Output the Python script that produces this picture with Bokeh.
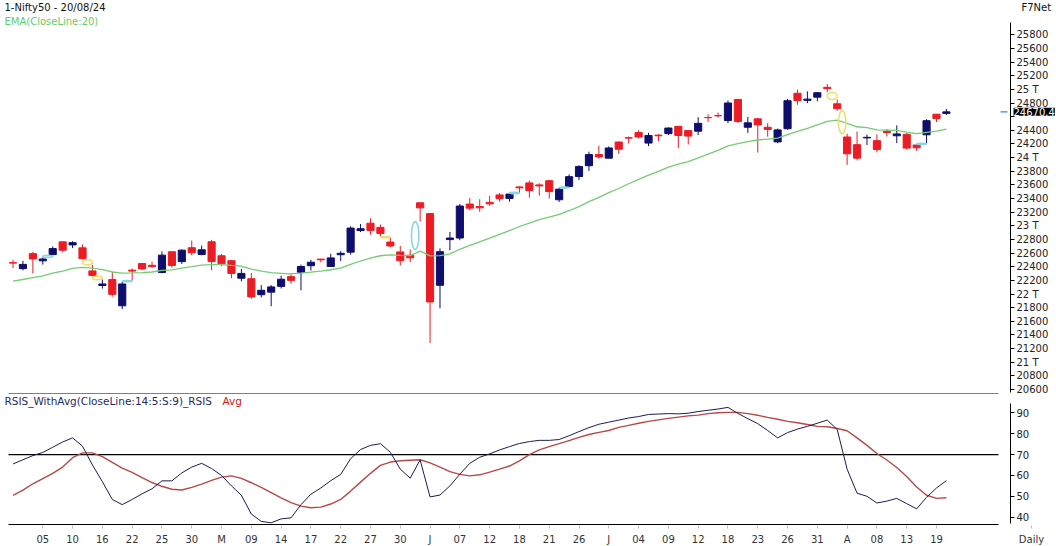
from bokeh.plotting import figure
from bokeh.layouts import column
from bokeh.models import ColumnDataSource, FixedTicker, Label, Range1d, LinearAxis
from bokeh.embed import file_html
from bokeh.resources import INLINE

# ---------------- data ----------------
dates = ["02-04", "03-04", "04-04", "05-04", "08-04", "09-04", "10-04", "12-04", "15-04", "16-04",
         "18-04", "19-04", "22-04", "23-04", "24-04", "25-04", "26-04", "29-04", "30-04", "02-05",
         "03-05", "06-05", "07-05", "08-05", "09-05", "10-05", "13-05", "14-05", "15-05", "16-05",
         "17-05", "18-05", "21-05", "22-05", "23-05", "24-05", "27-05", "28-05", "29-05", "30-05",
         "31-05", "03-06", "04-06", "05-06", "06-06", "07-06", "10-06", "11-06", "12-06", "13-06",
         "14-06", "18-06", "19-06", "20-06", "21-06", "24-06", "25-06", "26-06", "27-06", "28-06",
         "01-07", "02-07", "03-07", "04-07", "05-07", "08-07", "09-07", "10-07", "11-07", "12-07",
         "15-07", "16-07", "18-07", "19-07", "22-07", "23-07", "24-07", "25-07", "26-07", "29-07",
         "30-07", "31-07", "01-08", "02-08", "05-08", "06-08", "07-08", "08-08", "09-08", "12-08",
         "13-08", "14-08", "16-08", "19-08", "20-08"]

opens = [22460, 22372, 22592, 22486, 22578, 22765, 22720, 22677, 22339, 22125,
         22212, 21827, 22350, 22447, 22421, 22316, 22620, 22475, 22679, 22580,
         22766, 22561, 22489, 22231, 22224, 21990, 22027, 22112, 22255, 22319,
         22415, 22512, 22404, 22576, 22614, 22930, 23038, 22977, 22762, 22617,
         22568, 23337, 23179, 22128, 22798, 22821, 23319, 23283, 23344, 23453,
         23401, 23570, 23629, 23600, 23661, 23382, 23577, 23723, 23881, 24044,
         23992, 24228, 24291, 24369, 24213, 24329, 24351, 24459, 24396, 24387,
         24587, 24615, 24543, 24853, 24445, 24568, 24444, 24230, 24423, 24943,
         24839, 24886, 25030, 24789, 24302, 24189, 24289, 24248, 24386, 24320,
         24342, 24184, 24334, 24636, 24648]
highs = [22501, 22486, 22619, 22537, 22697, 22768, 22775, 22726, 22427, 22213,
         22326, 22179, 22375, 22447, 22476, 22625, 22620, 22655, 22783, 22710,
         22794, 22588, 22499, 22368, 22307, 22131, 22131, 22270, 22297, 22432,
         22502, 22513, 22591, 22629, 22993, 23026, 23110, 23019, 22825, 22705,
         22653, 23338, 23179, 22670, 22910, 23320, 23411, 23389, 23441, 23481,
         23490, 23579, 23664, 23624, 23667, 23558, 23754, 23889, 24087, 24174,
         24164, 24236, 24309, 24401, 24363, 24344, 24443, 24461, 24402, 24592,
         24635, 24661, 24837, 24854, 24595, 24582, 24504, 24426, 24861, 24999,
         24971, 24956, 25078, 24851, 24350, 24382, 24337, 24340, 24419, 24472,
         24359, 24196, 24563, 24638, 24712]
lows = [22381, 22346, 22303, 22432, 22569, 22612, 22673, 22503, 22259, 22079,
        21961, 21777, 22198, 22349, 22384, 22305, 22385, 22441, 22568, 22567,
        22348, 22409, 22232, 22185, 21932, 21950, 21821, 22081, 22151, 22054,
        22345, 22465, 22404, 22483, 22577, 22908, 22871, 22841, 22685, 22417,
        22465, 23062, 21281, 21791, 22642, 22789, 23227, 23206, 23295, 23353,
        23353, 23475, 23412, 23442, 23398, 23350, 23562, 23670, 23805, 23985,
        23992, 24056, 24207, 24281, 24168, 24240, 24331, 24141, 24193, 24331,
        24522, 24587, 24504, 24508, 24362, 24074, 24307, 24210, 24410, 24774,
        24798, 24825, 24956, 24686, 23893, 23960, 24184, 24079, 24311, 24212,
        24116, 24099, 24204, 24522, 24625]
closes = [22453, 22434, 22514, 22513, 22666, 22642, 22753, 22519, 22272, 22147,
          21995, 22147, 22336, 22368, 22402, 22570, 22419, 22643, 22604, 22648,
          22475, 22442, 22302, 22302, 21957, 22055, 22104, 22217, 22200, 22403,
          22466, 22502, 22529, 22597, 22967, 22957, 22932, 22888, 22704, 22488,
          22530, 23263, 21884, 22620, 22821, 23290, 23259, 23264, 23322, 23398,
          23465, 23557, 23516, 23585, 23501, 23537, 23721, 23868, 24044, 24010,
          24141, 24123, 24286, 24302, 24323, 24320, 24433, 24324, 24315, 24502,
          24586, 24613, 24800, 24530, 24509, 24479, 24413, 24406, 24834, 24836,
          24857, 24951, 25010, 24717, 24055, 23992, 24297, 24117, 24367, 24347,
          24139, 24143, 24541, 24572, 24670.4]

ema20 = [22189, 22213, 22241, 22267, 22305, 22337, 22377, 22390, 22379, 22357,
         22323, 22306, 22309, 22314, 22323, 22346, 22353, 22381, 22402, 22425,
         22430, 22431, 22419, 22408, 22365, 22335, 22313, 22304, 22294, 22305,
         22320, 22337, 22356, 22379, 22435, 22484, 22527, 22561, 22575, 22567,
         22563, 22630, 22559, 22564, 22589, 22656, 22713, 22766, 22819, 22874,
         22930, 22990, 23040, 23090, 23129, 23168, 23221, 23282, 23355, 23417,
         23486, 23547, 23617, 23682, 23743, 23798, 23859, 23903, 23942, 23995,
         24052, 24105, 24171, 24205, 24234, 24258, 24272, 24285, 24337, 24385,
         24430, 24479, 24530, 24548, 24501, 24452, 24438, 24407, 24403, 24398,
         24373, 24351, 24370, 24389, 24416]

rsis = [65.5, 67.5, 69.5, 71, 73.5, 76, 78, 74, 65, 57,
        48.5, 46, 48.5, 51.2, 53.6, 57.4, 57.4, 61.2, 64, 65.8,
        63.3, 60, 55, 50.5, 41.5, 38, 37.3, 39.2, 39.7, 46,
        51, 54, 57.5, 60.5, 68, 72.4, 74.4, 75.2, 71.1, 63,
        58.7, 67.4, 49.7, 50.6, 55, 60.6, 65.8, 68.7, 70.3, 72.2,
        73.8, 75.3, 76.2, 76.8, 76.8, 77.2, 79.0, 81.0, 82.9, 84.5,
        85.5, 86.5, 87.5, 88.2, 89.2, 89.4, 89.6, 89.5, 89.8, 90.6,
        91.2, 91.8, 92.6, 89.7, 87.2, 84.8, 81.5, 78, 80.5, 82.2,
        83.5, 85, 86.5, 82, 63, 51.5, 50, 46.8, 47.7, 49,
        46.5, 44, 49.5, 54, 57.5]
rsis_avg = [50.5, 53, 56, 58.5, 61, 64, 68.5, 70.8, 70.8, 69,
            66.3, 63.5, 61.5, 59, 56.6, 54.8, 53.4, 53, 54.3, 55.8,
            57.6, 59.2, 59.8, 58.6, 56.5, 54.3, 51.8, 49.3, 47, 45.3,
            44.5, 44.8, 46.3, 48.5, 52.5, 56.8, 61, 64.8, 66.4, 67,
            67.3, 67.5, 66, 64, 61.8, 60.5, 59.8, 60.3, 61.6, 63,
            64.5, 67, 70, 72.2, 73.8, 75.2, 76.7, 78.2, 79.6, 80.6,
            81.5, 83, 84, 85, 85.9, 86.6, 87.3, 87.9, 88.5, 88.9,
            89.6, 90, 90.2, 90.2, 89.6, 88.8, 87.8, 86.9, 85.9, 85.2,
            84.4, 83.5, 83.3, 82.5, 81.4, 78, 74.4, 70.5, 67.4, 63.8,
            59.5, 54.5, 50.5, 49, 49.3]

# gap markers (between candle k and k+1)
gap_after = [3, 7, 8, 11, 37, 40, 50, 55, 82, 83, 91]
gap_lo = [22537, 22427, 22213, 22179, 22825, 22653, 23470, 23558, 24851, 24350, 24196]
gap_hi = [22569, 22503, 22259, 22198, 22841, 23062, 23490, 23562, 24956, 24686, 24204]
gap_kind = ["up", "down", "down", "up", "down", "up", "up", "up", "down", "down", "up"]

date_ticks = [3, 6, 9, 12, 15, 18, 21, 24, 27, 30, 33, 36, 39, 42, 45, 48, 51, 54, 57, 60,
              63, 66, 69, 72, 75, 78, 81, 84, 87, 90, 93]
date_labels = ["05", "10", "16", "22", "25", "30", "M", "09", "14", "17", "22", "27", "30", "J",
               "07", "12", "18", "21", "26", "J", "04", "09", "12", "18", "23", "26", "31", "A",
               "08", "13", "19"]
price_ticks = [20600, 20800, 21000, 21200, 21400, 21600, 21800, 22000, 22200, 22400, 22600,
               22800, 23000, 23200, 23400, 23600, 23800, 24000, 24200, 24400, 24600, 24800,
               25000, 25200, 25400, 25600, 25800]
rsi_ticks = [40, 50, 60, 70, 80, 90]
rsi_level = 70

# ---------------- layout constants ----------------
FONT = "DejaVu Sans"
UP = "#0e0e6c"
DOWN = "#ec1c24"
W = 1056
PX = 9.93                 # pixels per trading day
X0 = -12.5 / PX           # left edge of the frame, in candle units
X_END = X0 + W / PX
AXIS_X = X0 + 1010 / PX   # where the value axes sit
LINE_X0 = X0 + 8 / PX     # panel border lines
LINE_X1 = X0 + 998 / PX
DAILY_X = X0 + 1031 / PX

n = len(closes)
xs = list(range(n))
x_rng = Range1d(X0, X_END)

top = [max(o, c) for o, c in zip(opens, closes)]
bot = [min(o, c) for o, c in zip(opens, closes)]
col = [UP if c > o else DOWN for o, c in zip(opens, closes)]
src = ColumnDataSource(dict(x=xs, h=highs, l=lows, top=top, bot=bot, col=col))


def style_value_axis(ax):
    ax.axis_line_color = "black"
    ax.major_tick_out = 4
    ax.major_tick_in = 0
    ax.major_tick_line_color = "black"
    ax.minor_tick_line_color = None
    ax.major_label_text_font = FONT
    ax.major_label_text_font_size = "10px"
    ax.major_label_text_color = "#222222"
    ax.major_label_standoff = 2


# ---------------- price panel ----------------
P_TOP, P_BOT = 26303, 20527
p1 = figure(frame_width=W, frame_height=394, x_range=x_rng, y_range=Range1d(P_BOT, P_TOP),
            output_backend="svg", toolbar_location=None,
            y_axis_location=None, x_axis_location=None,
            min_border_left=0, min_border_right=0, min_border_top=0, min_border_bottom=0)
p1.outline_line_color = None
p1.grid.visible = False
p1.background_fill_color = "white"
p1.border_fill_color = "white"

ya = LinearAxis(fixed_location=AXIS_X, ticker=FixedTicker(ticks=price_ticks),
                bounds=(20556, 25980))
over = {t: f"{t // 1000} T" for t in price_ticks if t % 1000 == 0}
over[24600] = ""          # hidden behind the last-price box in the reference
ya.major_label_overrides = over
style_value_axis(ya)
p1.add_layout(ya, "right")

p1.segment(x0="x", y0="h", x1="x", y1="l", line_color="col", line_width=1, source=src)
p1.vbar(x="x", width=0.72, top="top", bottom="bot", fill_color="col", line_color="col",
        line_width=1, source=src)
p1.line(xs, ema20, line_color="#74cc74", line_width=1.3)

gx = [g + 0.5 for g in gap_after]
gy = [(a + b) / 2 for a, b in zip(gap_lo, gap_hi)]
gh = [max(b - a, 18) for a, b in zip(gap_lo, gap_hi)]
gw = [0.75 if (b - a) > 250 else 1.0 for a, b in zip(gap_lo, gap_hi)]
gc = ["#8ad6e6" if k == "up" else "#eee070" for k in gap_kind]
p1.ellipse(x=gx, y=gy, width=gw, height=gh, fill_color=None, line_color=gc, line_width=1.6)

# bottom border of the price panel
p1.segment(x0=[LINE_X0], x1=[LINE_X1], y0=[P_BOT + 7], y1=[P_BOT + 7],
           line_color="black", line_width=1.2)

# last price marker
p1.segment(x0=[n + 4.45], x1=[n + 5.15], y0=[closes[-1]], y1=[closes[-1]],
           line_color="#3a8fc0", line_width=1.2)
price_box = Label(x=1013, x_units="screen", y=closes[-1], text=f"{closes[-1]:.1f}",
                  text_font=FONT, text_font_size="10px", text_color="white",
                  background_fill_color="black", text_baseline="middle", level="overlay")
p1.add_layout(price_box)

p1.add_layout(Label(x=4, y=387, x_units="screen", y_units="screen", text="1-Nifty50 - 20/08/24",
                    text_font=FONT, text_font_size="10px", text_color="#111111",
                    text_baseline="middle"))
p1.add_layout(Label(x=4, y=373, x_units="screen", y_units="screen", text="EMA(CloseLine:20)",
                    text_font=FONT, text_font_size="10px", text_color="#66cc66",
                    text_baseline="middle"))
p1.add_layout(Label(x=1021, y=387, x_units="screen", y_units="screen", text="F7Net",
                    text_font=FONT, text_font_size="10px", text_color="#111111",
                    text_baseline="middle"))

# ---------------- RSI panel ----------------
R_TOP, R_BOT = 98.76, 36.02
p2 = figure(frame_width=W, frame_height=131, x_range=x_rng, y_range=Range1d(R_BOT, R_TOP),
            output_backend="svg", toolbar_location=None,
            y_axis_location=None, x_axis_location="below",
            min_border_left=0, min_border_right=0, min_border_top=0, min_border_bottom=0)
p2.outline_line_color = None
p2.grid.visible = False
p2.background_fill_color = "white"
p2.border_fill_color = "white"

xa = p2.xaxis[0]
xa.ticker = FixedTicker(ticks=date_ticks + [DAILY_X])
overrides = {t: s for t, s in zip(date_ticks, date_labels)}
overrides[DAILY_X] = "Daily"
xa.major_label_overrides = overrides
xa.axis_line_color = None
xa.major_tick_out = 3
xa.major_tick_in = 0
xa.major_tick_line_color = "#c8b8b8"
xa.minor_tick_line_color = None
xa.major_label_text_font = FONT
xa.major_label_text_font_size = "10px"
xa.major_label_text_color = "#333333"
xa.major_label_standoff = 5

ya2 = LinearAxis(fixed_location=AXIS_X, ticker=FixedTicker(ticks=rsi_ticks), bounds=(37.0, 94.4))
style_value_axis(ya2)
p2.add_layout(ya2, "right")

p2.segment(x0=[LINE_X0], x1=[LINE_X1], y0=[rsi_level], y1=[rsi_level],
           line_color="black", line_width=1.2)
p2.segment(x0=[LINE_X0], x1=[LINE_X1], y0=[R_BOT + 0.48], y1=[R_BOT + 0.48],
           line_color="black", line_width=1.2)
p2.line(xs, rsis_avg, line_color="#b84848", line_width=1.4)
p2.line(xs, rsis, line_color="#1c1c50", line_width=1.0)

p2.add_layout(Label(x=4, y=125, x_units="screen", y_units="screen",
                    text="RSIS_WithAvg(CloseLine:14:5:S:9)_RSIS",
                    text_font=FONT, text_font_size="10.5px", text_color="#2a2a60",
                    text_baseline="middle"))
p2.add_layout(Label(x=222, y=125, x_units="screen", y_units="screen", text="Avg",
                    text_font=FONT, text_font_size="10.5px", text_color="#d02020",
                    text_baseline="middle"))

layout = column(p1, p2, spacing=0)
open("out.html", "w").write(file_html(layout, INLINE))
